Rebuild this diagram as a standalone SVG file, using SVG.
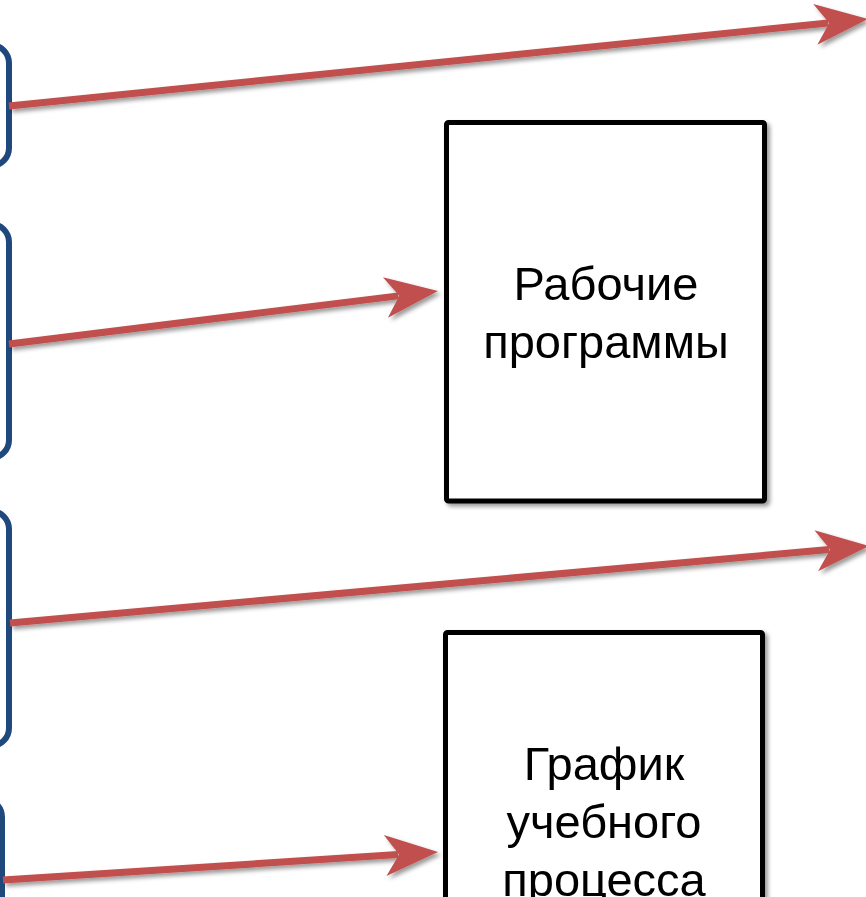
<svg xmlns="http://www.w3.org/2000/svg" width="866" height="897" viewBox="0 0 866 897">
  <style>
    .bracket { fill: none; stroke: #1F497D; stroke-width: 6; }
    .box { fill: #FFFFFF; stroke: #000000; stroke-width: 5; }
    .conn { fill: none; stroke: #C0504D; stroke-width: 7; }
    .label { font-family: "Liberation Sans", Arial, sans-serif; font-size: 47px; fill: #000000; text-anchor: middle; }
  </style>
  <defs>
    <filter id="shadow" x="-10%" y="-20%" width="130%" height="160%">
      <feDropShadow dx="3" dy="3" stdDeviation="2.2" flood-color="#000000" flood-opacity="0.4"/>
    </filter>
    <marker id="head" markerUnits="userSpaceOnUse" orient="auto" refX="0" refY="0" markerWidth="70" markerHeight="50" overflow="visible">
      <path d="M40,0 L-13,-20.5 L1,0 L-13,20.5 Z" fill="#C0504D"/>
    </marker>
  </defs>
  <rect width="866" height="897" fill="#FFFFFF"/>

  <g id="bracket1"><rect class="bracket" x="-40" y="45" width="49" height="121" rx="18"/></g>
  <g id="bracket2"><rect class="bracket" x="-40" y="224" width="49" height="234" rx="18"/></g>
  <g id="bracket3"><rect class="bracket" x="-40" y="511" width="49" height="235" rx="18"/></g>
  <g id="bracket4"><rect class="bracket" x="-46" y="799" width="48" height="140" rx="18"/></g>

  <g id="box1" filter="url(#shadow)">
    <rect class="box" x="446.5" y="122.5" width="318" height="378.5" rx="2"/>
    <text class="label" x="606" y="300">Рабочие</text>
    <text class="label" x="606" y="358">программы</text>
  </g>

  <g id="box2" filter="url(#shadow)">
    <rect class="box" x="445.5" y="632.5" width="317" height="300" rx="2"/>
    <text class="label" x="604" y="780">График</text>
    <text class="label" x="604" y="838">учебного</text>
    <text class="label" x="604" y="896">процесса</text>
  </g>

  <g id="connectors" filter="url(#shadow)">
    <line class="conn" x1="9" y1="106" x2="828.2" y2="23.0" marker-end="url(#head)"/>
    <line class="conn" x1="9" y1="344" x2="398.3" y2="295.9" marker-end="url(#head)"/>
    <line class="conn" x1="10" y1="623" x2="829.2" y2="549.6" marker-end="url(#head)"/>
    <line class="conn" x1="3" y1="880" x2="398.1" y2="854.6" marker-end="url(#head)"/>
  </g>
</svg>
